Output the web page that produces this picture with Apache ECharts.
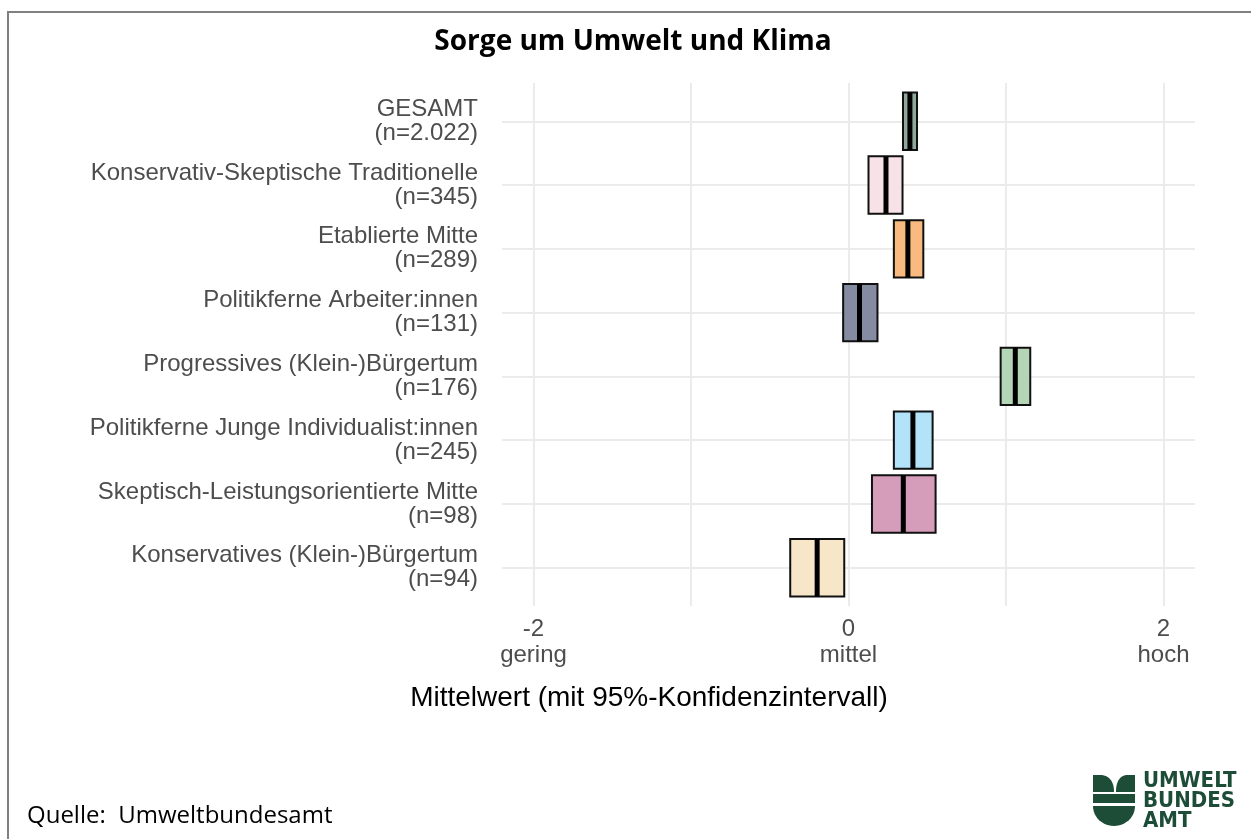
<!DOCTYPE html>
<html>
<head>
<meta charset="utf-8">
<script src="https://cdn.jsdelivr.net/npm/echarts@6/dist/echarts.min.js"></script>
<style>
html,body{margin:0;padding:0;background:#fff;}
#chart{width:1251px;height:839px;}
</style>
</head>
<body>
<div id="chart"></div>
<script>
// ---- data ----
var categories = [
  'GESAMT',
  'Konservativ-Skeptische Traditionelle',
  'Etablierte Mitte',
  'Politikferne Arbeiter:innen',
  'Progressives (Klein-)Bürgertum',
  'Politikferne Junge Individualist:innen',
  'Skeptisch-Leistungsorientierte Mitte',
  'Konservatives (Klein-)Bürgertum'
];
var sampleSizes = ['n=2.022', 'n=345', 'n=289', 'n=131', 'n=176', 'n=245', 'n=98', 'n=94'];
var means = [0.390, 0.238, 0.377, 0.070, 1.059, 0.409, 0.348, -0.199];
var lower = [0.346, 0.127, 0.288, -0.034, 0.966, 0.288, 0.149, -0.370];
var upper = [0.435, 0.343, 0.475, 0.184, 1.154, 0.534, 0.553, -0.027];
var fillColors = ['#8ea89b', '#f7e2e7', '#f8ba7e', '#858ba1', '#b4d5b6', '#b3e3f8', '#d59dba', '#f7e6c8'];
var xTickValues = [-2, 0, 2];
var xTickNames = ['gering', 'mittel', 'hoch'];
var xGridValues = [-2, -1, 0, 1, 2];

var chart = echarts.init(document.getElementById('chart'), null, {renderer: 'canvas'});

var boxData = categories.map(function (c, i) {
  return [i + 1, lower[i], upper[i], means[i]];
});

var gridLines = [];
xGridValues.forEach(function (v) { gridLines.push({xAxis: v}); });
categories.forEach(function (c, i) { gridLines.push({yAxis: i + 1}); });

// logo helper: quadratic curve sampled into polygon points
function quadPts(p0, c, p1, n) {
  var pts = [];
  for (var k = 0; k <= n; k++) {
    var t = k / n;
    pts.push([
      (1 - t) * (1 - t) * p0[0] + 2 * (1 - t) * t * c[0] + t * t * p1[0],
      (1 - t) * (1 - t) * p0[1] + 2 * (1 - t) * t * c[1] + t * t * p1[1]
    ]);
  }
  return pts;
}
var leftLeaf = [[1093, 775]].concat(quadPts([1102, 775], [1114, 777], [1114, 792], 12)).concat([[1093, 792]]);
var rightLeaf = [[1135, 775]].concat(quadPts([1126, 775], [1116, 777], [1116, 792], 12)).concat([[1135, 792]]);
var bowl = [];
for (var k = 0; k <= 24; k++) {
  var a = Math.PI * k / 24;
  bowl.push([1114 + 21 * Math.cos(a), 806 + 20 * Math.sin(a)]);
}
var logoGreen = '#1d4d36';
var logoFont = 'bold 22px "Liberation Sans Narrow", "DejaVu Sans Condensed", sans-serif';

var option = {
  backgroundColor: '#ffffff',
  animation: false,
  grid: {left: 502, right: 56, top: 83, bottom: 233, containLabel: false},
  xAxis: {
    type: 'value',
    min: -2.2,
    max: 2.2,
    axisLine: {show: false},
    axisTick: {show: false},
    splitLine: {show: false},
    axisLabel: {
      customValues: xTickValues,
      color: '#4d4d4d',
      fontFamily: '"Liberation Sans", Arial, sans-serif',
      fontSize: 24,
      lineHeight: 26,
      margin: 10,
      formatter: function (v) {
        var idx = xTickValues.indexOf(Math.round(v));
        return String(Math.round(v)) + '\n' + (idx >= 0 ? xTickNames[idx] : '');
      }
    }
  },
  yAxis: {
    type: 'value',
    min: 0.4,
    max: 8.6,
    inverse: true,
    axisLine: {show: false},
    axisTick: {show: false},
    splitLine: {show: false},
    axisLabel: {
      customValues: categories.map(function (c, i) { return i + 1; }),
      color: '#4d4d4d',
      fontFamily: '"Liberation Sans", Arial, sans-serif',
      fontSize: 24,
      lineHeight: 24,
      margin: 24,
      align: 'right',
      formatter: function (v) {
        var i = Math.round(v) - 1;
        return categories[i] + '\n(' + sampleSizes[i] + ')';
      }
    }
  },
  series: [
    {
      type: 'custom',
      z: 1,
      silent: true,
      data: [],
      renderItem: function () { return null; },
      markLine: {
        silent: true,
        z: 1,
        symbol: 'none',
        label: {show: false},
        animation: false,
        lineStyle: {color: '#ebebeb', width: 2, type: 'solid'},
        data: gridLines
      }
    },
    {
      type: 'custom',
      z: 5,
      data: boxData,
      encode: {x: [1, 2, 3], y: 0},
      renderItem: function (params, api) {
        var yv = api.value(0);
        var lo = api.value(1), hi = api.value(2), m = api.value(3);
        var p1 = api.coord([lo, yv - 0.45]);
        var p2 = api.coord([hi, yv + 0.45]);
        var pm1 = api.coord([m, yv - 0.45]);
        var pm2 = api.coord([m, yv + 0.45]);
        var idx = params.dataIndex;
        var top = Math.min(p1[1], p2[1]);
        var h = Math.abs(p2[1] - p1[1]);
        return {
          type: 'group',
          children: [
            {
              type: 'rect',
              shape: {x: p1[0], y: top, width: p2[0] - p1[0], height: h},
              style: {fill: fillColors[idx], stroke: '#111111', lineWidth: 2}
            },
            {
              type: 'line',
              shape: {x1: pm1[0], y1: pm1[1], x2: pm2[0], y2: pm2[1]},
              style: {stroke: '#000000', lineWidth: 5}
            }
          ]
        };
      }
    }
  ],
  graphic: [
    {
      type: 'rect', silent: true, z: 0,
      shape: {x: 8, y: 12, width: 1300, height: 900},
      style: {fill: 'none', stroke: '#808080', lineWidth: 2}
    },
    {
      type: 'text', x: 633, y: 42,
      style: {
        text: 'Sorge um Umwelt und Klima',
        font: 'bold 28px "Open Sans", "Noto Sans", sans-serif',
        fill: '#000000', textAlign: 'center', textVerticalAlign: 'middle'
      }
    },
    {
      type: 'text', x: 649, y: 698,
      style: {
        text: 'Mittelwert (mit 95%-Konfidenzintervall)',
        font: '28px "Liberation Sans", Arial, sans-serif',
        fill: '#000000', textAlign: 'center', textVerticalAlign: 'middle'
      }
    },
    {
      type: 'text', x: 27, y: 816,
      style: {
        text: 'Quelle:  Umweltbundesamt',
        font: '24px "Open Sans", "Noto Sans", sans-serif',
        fill: '#000000', textAlign: 'left', textVerticalAlign: 'middle'
      }
    },
    {type: 'polygon', silent: true, shape: {points: leftLeaf}, style: {fill: logoGreen}},
    {type: 'polygon', silent: true, shape: {points: rightLeaf}, style: {fill: logoGreen}},
    {type: 'rect', silent: true, shape: {x: 1093, y: 794, width: 42, height: 9}, style: {fill: logoGreen}},
    {type: 'polygon', silent: true, shape: {points: bowl}, style: {fill: logoGreen}},
    {type: 'text', x: 1143, y: 781, style: {text: 'UMWELT', font: logoFont, fill: logoGreen, textVerticalAlign: 'middle'}},
    {type: 'text', x: 1143, y: 801, style: {text: 'BUNDES', font: logoFont, fill: logoGreen, textVerticalAlign: 'middle'}},
    {type: 'text', x: 1143, y: 821, style: {text: 'AMT', font: logoFont, fill: logoGreen, textVerticalAlign: 'middle'}}
  ]
};
chart.setOption(option);
</script>
</body>
</html>
